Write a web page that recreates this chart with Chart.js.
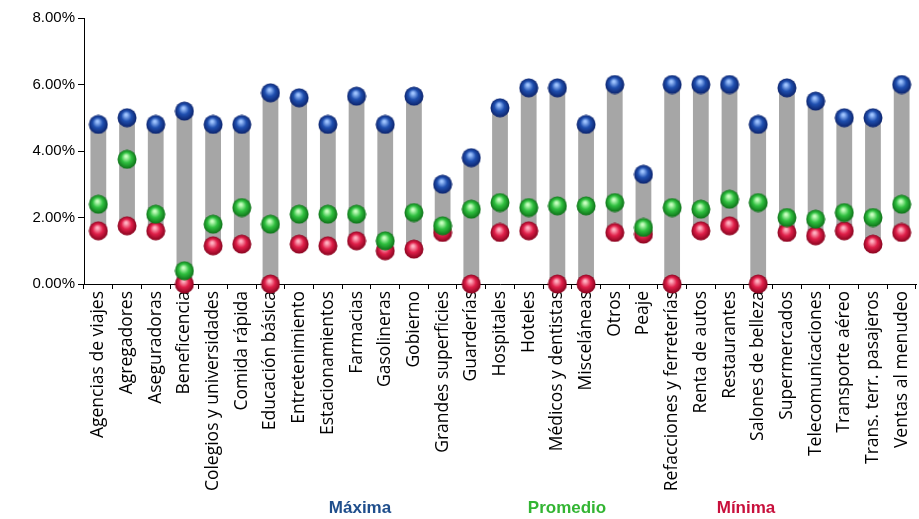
<!DOCTYPE html>
<html><head><meta charset="utf-8">
<script src="https://cdn.jsdelivr.net/npm/chart.js@4"></script>
<style>html,body{margin:0;background:#fff;overflow:hidden}#w{width:927px;height:519px}</style>
</head><body><div id="w"><canvas id="c"></canvas></div>
<script>
const categories=["Agencias de viajes","Agregadores","Aseguradoras","Beneficencia","Colegios y universidades","Comida rápida","Educación básica","Entretenimiento","Estacionamientos","Farmacias","Gasolineras","Gobierno","Grandes superficies","Guarderías","Hospitales","Hoteles","Médicos y dentistas","Misceláneas","Otros","Peaje","Refacciones y ferreterías","Renta de autos","Restaurantes","Salones de belleza","Supermercados","Telecomunicaciones","Transporte aéreo","Trans. terr. pasajeros","Ventas al menudeo"];
const maxima=[4.8,5.0,4.8,5.2,4.8,4.8,5.75,5.6,4.8,5.65,4.8,5.65,3.0,3.8,5.3,5.9,5.9,4.8,6.0,3.3,6.0,6.0,6.0,4.8,5.9,5.5,5.0,5.0,6.0];
const promedio=[2.4,3.75,2.1,0.4,1.8,2.3,1.8,2.1,2.1,2.1,1.3,2.15,1.75,2.25,2.45,2.3,2.35,2.35,2.45,1.7,2.3,2.25,2.55,2.45,2.0,1.95,2.15,2.0,2.4];
const minima=[1.6,1.75,1.6,0,1.15,1.2,0,1.2,1.15,1.3,1.0,1.05,1.55,0,1.55,1.6,0,0,1.55,1.5,0,1.6,1.75,0,1.55,1.45,1.6,1.2,1.55];
function sphere(light,mid,dark){const s=20,c=document.createElement('canvas');c.width=c.height=s;const g=c.getContext('2d');
const gr=g.createRadialGradient(s*0.45,s*0.35,1,s/2,s/2,s/2);gr.addColorStop(0,light);gr.addColorStop(0.45,mid);gr.addColorStop(1,dark);
g.fillStyle=gr;g.beginPath();g.arc(s/2,s/2,s/2-0.5,0,Math.PI*2);g.fill();return c;}
const sMax=sphere('#9fc4ff','#2050b0','#0a1f66'),sAvg=sphere('#c8ffc0','#30c040','#0a6a14'),sMin=sphere('#ffb0c0','#e0204a','#80001a');
const pt=(label,data,img,color)=>({type:'line',label,data,showLine:false,clip:false,pointStyle:img,pointRadius:10,pointHoverRadius:10,borderColor:color,backgroundColor:color,legendColor:color});
const legendPlugin={id:'lg',afterDraw(ch){const g=ch.ctx;g.save();g.font='bold 17px "Liberation Sans"';g.textAlign='center';g.textBaseline='middle';
[[0,360],[1,567],[2,746]].forEach(([i,x])=>{const d=ch.data.datasets[i];g.fillStyle=d.legendColor;g.fillText(d.label,x,508);});g.restore();}};
new Chart(document.getElementById('c'),{type:'bar',data:{labels:categories,datasets:[
pt('Máxima',maxima,sMax,'#1f4e8c'),pt('Promedio',promedio,sAvg,'#33b533'),pt('Mínima',minima,sMin,'#c8103c'),
{type:'bar',label:'rango',data:minima.map((m,i)=>[m,maxima[i]]),backgroundColor:'#a6a6a6',barPercentage:0.55,categoryPercentage:1,order:10}
]},plugins:[legendPlugin],options:{animation:false,responsive:true,maintainAspectRatio:false,
layout:{padding:{top:18,right:0,left:0,bottom:0}},
plugins:{tooltip:{enabled:false},legend:{display:false}},
scales:{x:{offset:true,afterFit:s=>{s.height=235},grid:{display:true,offset:true,drawOnChartArea:false,color:'#000',tickLength:5},border:{color:'#000'},ticks:{color:'#000',padding:2,maxRotation:90,minRotation:90,autoSkip:false,font:{family:'Open Sans',size:17.5}}},
y:{min:0,max:8,afterFit:s=>{s.width=84},grid:{display:true,drawOnChartArea:false,color:'#000',tickLength:6},border:{color:'#000'},ticks:{stepSize:2,color:'#000',font:{family:'Liberation Sans',size:15},callback:v=>v.toFixed(2)+'%'}}}}});
</script></body></html>
